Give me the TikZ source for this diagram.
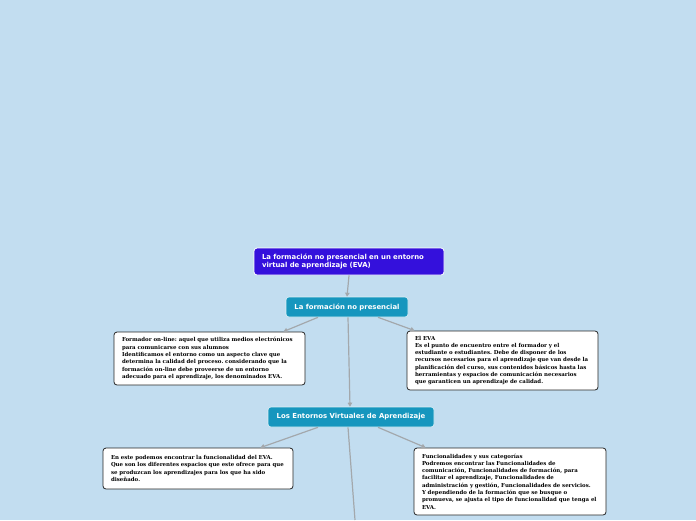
\documentclass[tikz,border=0pt]{standalone}
\usepackage{fontspec}
\usepackage{tikz}
\usetikzlibrary{arrows.meta}
\setmainfont{DejaVu Serif}
\newfontfamily\titlefont{DejaVu Sans}
\definecolor{bgblue}{HTML}{C2DDF0}
\definecolor{rootblue}{HTML}{3410DC}
\definecolor{topicteal}{HTML}{1696BE}
\definecolor{linkgray}{HTML}{A3A8AC}
\frenchspacing

\begin{document}
\begin{tikzpicture}[
  x=1pt, y=-1pt,
  root/.style={draw=white, line width=0.8pt, rounded corners=3pt, fill=rootblue, text=white, font=\titlefont\fontsize{6.9}{8.4}\selectfont\bfseries, align=left, text width=174pt, minimum width=190pt, minimum height=27pt, inner sep=0pt},
  topic/.style={draw=white!85!topicteal, line width=0.6pt, rounded corners=3pt, fill=topicteal, text=white, font=\titlefont\fontsize{6.9}{8.4}\selectfont\bfseries, minimum height=20pt, inner sep=0pt},
  note/.style={draw=black!85, line width=0.8pt, rounded corners=3pt, fill=white, font=\fontsize{5.45}{7.3}\selectfont\bfseries, align=left, inner sep=0pt},
  link/.style={-{Triangle[length=4pt,width=4.5pt]}, draw=linkgray, line width=1.2pt}
]
\fill[bgblue] (0,0) rectangle (696,520);
\useasboundingbox (0,0) rectangle (696,520);

% Main boxes
\node[root] (eva) at (349,261.5) {La formación no presencial en un entorno\\virtual de aprendizaje (EVA)};
\node[topic, minimum width=122pt] (formacion) at (347,307) {La formación no presencial};
\node[note, text width=175pt, minimum width=191pt, minimum height=53pt] (formador) at (209.5,358.5) {Formador on-line: aquel que utiliza medios electrónicos\\para comunicarse con sus alumnos\\Identificamos el entorno como un aspecto clave que\\determina la calidad del proceso. considerando que la\\formación on-line debe proveerse de un entorno\\adecuado para el aprendizaje, los denominados EVA.};
\node[note, text width=175pt, minimum width=191pt, minimum height=59pt] (elEVA) at (502.5,360.5) {El EVA\\Es el punto de encuentro entre el formador y el\\estudiante o estudiantes. Debe de disponer de los\\recursos necesarios para el aprendizaje que van desde la\\planificación del curso, sus contenidos básicos hasta las\\herramientas y espacios de comunicación necesarios\\que garanticen un aprendizaje de calidad.};
\node[topic, minimum width=166pt] (entornos) at (351,417) {Los Entornos Virtuales de Aprendizaje};
\node[note, text width=174pt, minimum width=190pt, minimum height=41pt] (funcEVA) at (198,468.5) {En este podemos encontrar la funcionalidad del EVA.\\Que son los diferentes espacios que este ofrece para que\\se produzcan los aprendizajes para los que ha sido\\diseñado.};
\node[note, text width=176pt, minimum width=192pt, minimum height=67pt] (categorias) at (510,481.5) {Funcionalidades y sus categorías\\Podremos encontrar las Funcionalidades de\\comunicación, Funcionalidades de formación, para\\facilitar el aprendizaje, Funcionalidades de\\administración y gestión, Funcionalidades de servicios.\\Y dependiendo de la formación que se busque o\\promueva, se ajusta el tipo de funcionalidad que tenga el\\EVA.};
\coordinate (abajo) at (355,520);

% Arrows
\draw[link] (eva.south) -- (formacion.north);
\draw[link] ([xshift=-29pt]formacion.south) -- ([xshift=-22pt]formador.north east);
\draw[link] ([xshift=31pt]formacion.south) -- ([xshift=8pt]elEVA.north west);
\draw[link] ([xshift=1pt]formacion.south) -- ([xshift=-1pt]entornos.north);
\draw[link] ([xshift=-33pt]entornos.south) -- ([xshift=-33pt]funcEVA.north east);
\draw[link] ([xshift=27pt]entornos.south) -- ([xshift=12pt]categorias.north west);
\draw[draw=linkgray, line width=1.2pt] ([xshift=-3pt]entornos.south) -- (abajo);
\end{tikzpicture}
\end{document}
